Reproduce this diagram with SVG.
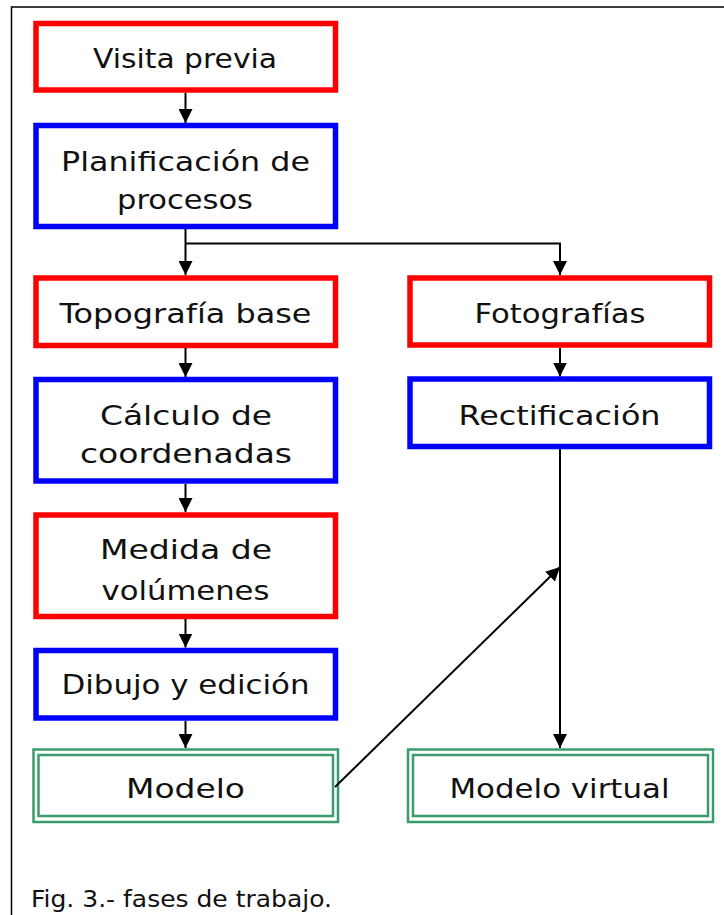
<svg xmlns="http://www.w3.org/2000/svg" width="724" height="915" viewBox="0 0 724 915">
<style>
.t{font-family:"DejaVu Sans","Liberation Sans",sans-serif;font-size:27px;fill:#111;text-anchor:middle}
.red{fill:#fff;stroke:#ff0000;stroke-width:5.5}
.blue{fill:#fff;stroke:#0000ff;stroke-width:5.5}
.grn{fill:none;stroke:#3a9c6c;stroke-width:2.5}
.c{fill:none;stroke:#000;stroke-width:2}
.cap{font-family:"DejaVu Sans","Liberation Sans",sans-serif;font-size:23px;fill:#111}
</style>
<defs>
<marker id="ah" viewBox="0 0 14 14" refX="14" refY="7" markerWidth="14" markerHeight="14" markerUnits="userSpaceOnUse" orient="auto">
<path d="M0,0 L14,7 L0,14 Z" fill="#000"/>
</marker>
</defs>
<rect width="724" height="915" fill="#fff"/>
<path d="M11.5,915 V7 H724" fill="none" stroke="#000" stroke-width="1.5"/>

<g id="visita"><rect class="red" x="36" y="23.5" width="299.5" height="66.5"/><text class="t" x="185" y="68" textLength="184" lengthAdjust="spacingAndGlyphs">Visita previa</text></g>
<g id="planificacion"><rect class="blue" x="36" y="125.5" width="299.5" height="101"/><text class="t" x="185.5" y="171" textLength="249" lengthAdjust="spacingAndGlyphs">Planificación de</text><text class="t" x="185" y="209" textLength="136" lengthAdjust="spacingAndGlyphs">procesos</text></g>
<g id="topografia"><rect class="red" x="36" y="278" width="299.5" height="67.5"/><text class="t" x="185.5" y="323" textLength="252" lengthAdjust="spacingAndGlyphs">Topografía base</text></g>
<g id="calculo"><rect class="blue" x="36" y="379.5" width="299.5" height="101.5"/><text class="t" x="186" y="425" textLength="172" lengthAdjust="spacingAndGlyphs">Cálculo de</text><text class="t" x="186" y="463" textLength="212" lengthAdjust="spacingAndGlyphs">coordenadas</text></g>
<g id="medida"><rect class="red" x="36" y="515" width="299.5" height="101.5"/><text class="t" x="186" y="559" textLength="172" lengthAdjust="spacingAndGlyphs">Medida de</text><text class="t" x="185.5" y="600" textLength="168" lengthAdjust="spacingAndGlyphs">volúmenes</text></g>
<g id="dibujo"><rect class="blue" x="36" y="650.5" width="299.5" height="67.5"/><text class="t" x="185.5" y="694" textLength="248" lengthAdjust="spacingAndGlyphs">Dibujo y edición</text></g>
<g id="modelo"><rect class="grn" x="33.5" y="749.5" width="304.5" height="72.5"/><rect class="grn" x="38.5" y="755" width="294.5" height="61"/><text class="t" x="185.5" y="798" textLength="119" lengthAdjust="spacingAndGlyphs">Modelo</text></g>
<g id="fotografias"><rect class="red" x="410" y="278" width="299.5" height="67"/><text class="t" x="560" y="323" textLength="171" lengthAdjust="spacingAndGlyphs">Fotografías</text></g>
<g id="rectificacion"><rect class="blue" x="410" y="379" width="299.5" height="67.5"/><text class="t" x="559.5" y="425" textLength="202" lengthAdjust="spacingAndGlyphs">Rectificación</text></g>
<g id="modelo-virtual"><rect class="grn" x="408" y="749.5" width="305" height="72.5"/><rect class="grn" x="413" y="755" width="295" height="61"/><text class="t" x="559.5" y="798" textLength="220" lengthAdjust="spacingAndGlyphs">Modelo virtual</text></g>

<g id="connectors">
<line class="c" x1="185.5" y1="93" x2="185.5" y2="123" marker-end="url(#ah)"/>
<line class="c" x1="185.5" y1="229" x2="185.5" y2="275" marker-end="url(#ah)"/>
<polyline class="c" points="185.5,243.5 560,243.5 560,275" marker-end="url(#ah)"/>
<line class="c" x1="185.5" y1="348" x2="185.5" y2="377" marker-end="url(#ah)"/>
<line class="c" x1="185.5" y1="484" x2="185.5" y2="512" marker-end="url(#ah)"/>
<line class="c" x1="185.5" y1="619" x2="185.5" y2="647.5" marker-end="url(#ah)"/>
<line class="c" x1="185.5" y1="721" x2="185.5" y2="748" marker-end="url(#ah)"/>
<line class="c" x1="560" y1="348" x2="560" y2="376.5" marker-end="url(#ah)"/>
<line class="c" x1="560" y1="449" x2="560" y2="748" marker-end="url(#ah)"/>
<line class="c" x1="335" y1="787" x2="560" y2="567" marker-end="url(#ah)"/>
</g>

<text class="cap" x="31" y="907" textLength="301" lengthAdjust="spacingAndGlyphs">Fig. 3.- fases de trabajo.</text>
</svg>
